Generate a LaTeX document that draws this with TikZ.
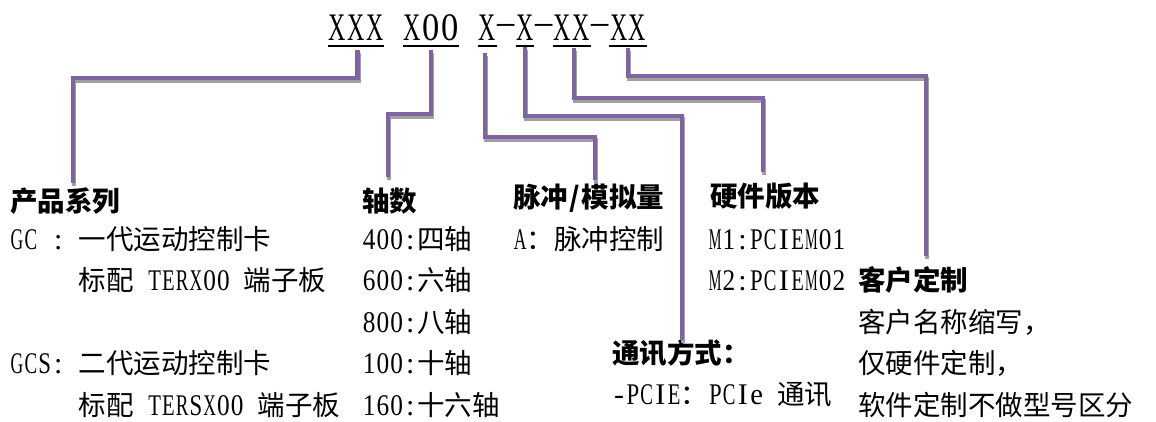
\documentclass[tikz,border=0pt]{standalone}
\usepackage{fontspec}
\usepackage{graphicx}
\newfontfamily\cjk{Noto Sans CJK SC}
\newfontfamily\lat{Liberation Serif}
\definecolor{linepurple}{HTML}{8064A2}
\definecolor{shadowgray}{HTML}{A0A0A0}
\newlength\cw
\newlength\chh
\newcommand\latsize{\fontsize{30}{33}\selectfont}
\newcommand\cellch[1]{\makebox[\cw]{\sbox0{\latsize\lat #1}\setlength\chh{\ht0}\ifdim\wd0>0.92\cw\resizebox{0.92\cw}{\chh}{\usebox0}\else\usebox0\fi}}
\newcommand\codedash{\raisebox{6pt}{–}}
\makeatletter
\def\mono#1{\mono@#1\relax}
\def\mono@#1{\ifx\relax#1\else\cellch{#1}\expandafter\mono@\fi}
\makeatother
\newcommand\drawlink[3]{%
  \draw[shadowline] ([shift={(1,3)}]#1) -- ++(0,#2) -| ([shift={(1,3)}]#3);
  \draw[connline] (#1) -- ++(0,#2) -| (#3);}
\tikzset{
  connline/.style={draw=linepurple, line width=4.5pt, line join=miter},
  shadowline/.style={draw=shadowgray, line width=4.5pt, line join=miter},
  uline/.style={draw=black, line width=2pt},
  head/.style={anchor=base west, inner sep=0pt, font=\fontsize{27.5}{33}\selectfont\cjk\bfseries},
  body/.style={anchor=base west, inner sep=0pt, font=\fontsize{27.5}{33}\selectfont\cjk\setlength\cw{13.75pt}},
  codetext/.style={anchor=base west, inner sep=0pt, font=\setlength\cw{18.75pt}}
}
\begin{document}
\begin{tikzpicture}[x=1pt,y=-1pt]
\fill[white] (0,0) rectangle (1156,421);
\useasboundingbox (0,0) rectangle (1156,421);

% code line
\node[codetext] (code) at (328,40) {\renewcommand\latsize{\fontsize{39}{42}\selectfont}\mono{XXX~X00~X\codedash X\codedash XX\codedash XX}};
\foreach \a/\b in {0/3,4/7,8/9,10/11,12/14,15/17}
  \draw[uline] (328+\a*18.75,45.5) -- (328+\b*18.75,45.5);

% headings
\node[head] (h1) at (10,211) {产品系列};
\node[head] (h2) at (362,211) {轴数};
\node[head] (h3) at (513,207) {脉冲\makebox[13.75pt]{/}模拟量};
\node[head] (h5) at (710,206) {硬件版本};
\node[head] (h6) at (858,290.5) {客户定制};
\node[head] (h4) at (612,363) {通讯方式：};

% column 1
\node[body] (c1a) at (10,249) {\mono{GC~:~}一代运动控制卡};
\node[body] (c1b) at (78.75,290.5) {标配\mono{~TERX00~}端子板};
\node[body] (c1c) at (10,373.5) {\mono{GCS:~}二代运动控制卡};
\node[body] (c1d) at (78.75,415) {标配\mono{~TERSX00~}端子板};

% column 2
\node[body] (c2a) at (362,249) {\mono{400:}四轴};
\node[body] (c2b) at (362,290.5) {\mono{600:}六轴};
\node[body] (c2c) at (362,332) {\mono{800:}八轴};
\node[body] (c2d) at (362,373.5) {\mono{100:}十轴};
\node[body] (c2e) at (362,415) {\mono{160:}十六轴};

% column 3
\node[body] (c3a) at (513,249) {\mono{A}：脉冲控制};

% column 4
\node[body] (c5a) at (708,249) {\mono{M1:PCIEM01}};
\node[body] (c5b) at (708,290.5) {\mono{M2:PCIEM02}};

% column 5
\node[body] (c6a) at (858,332) {客户名称缩写，};
\node[body] (c6b) at (858,373.5) {仅硬件定制，};
\node[body] (c6c) at (858,415) {软件定制不做型号区分};

% communication
\node[body] (c4a) at (612,404.5) {\mono{-PCIE}：\mono{PCIe~}通讯};

% connector endpoints
\coordinate (s1) at (357.5,50);  \coordinate (e1) at (73,183);
\coordinate (s2) at (431,50);    \coordinate (e2) at (388,177);
\coordinate (s3) at (485,53);    \coordinate (e3) at (595,180);
\coordinate (s4) at (525,47);    \coordinate (e4) at (682,340);
\coordinate (s5) at (574,48);    \coordinate (e5) at (763,172);
\coordinate (s6) at (628,48);    \coordinate (e6) at (926,256);

\drawlink{s1}{28}{e1}
\drawlink{s2}{64}{e2}
\drawlink{s3}{84}{e3}
\drawlink{s4}{69}{e4}
\drawlink{s5}{50}{e5}
\drawlink{s6}{28}{e6}
\end{tikzpicture}
\end{document}
